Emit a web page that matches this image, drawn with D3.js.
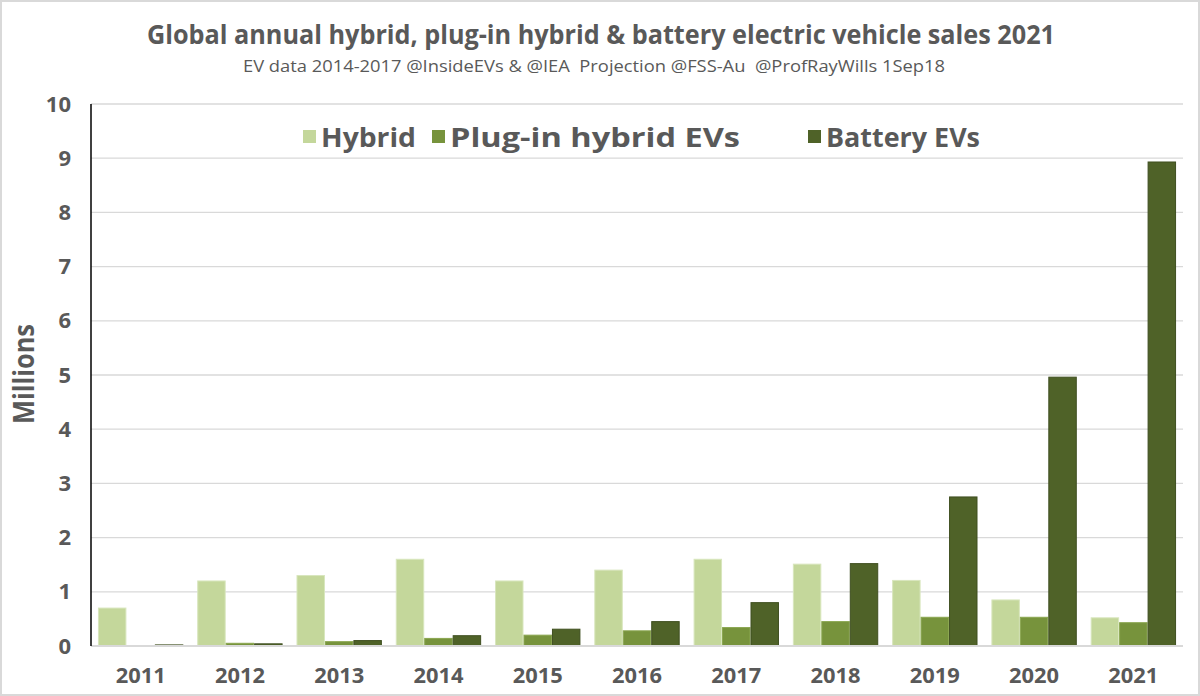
<!DOCTYPE html>
<html><head><meta charset="utf-8">
<script src="https://cdn.jsdelivr.net/npm/d3@7"></script>
<style>
html,body{margin:0;padding:0;background:#fff;}
svg{display:block;}
</style></head>
<body>
<svg id="chart" width="1200" height="696"></svg>
<script>
const years = ["2011","2012","2013","2014","2015","2016","2017","2018","2019","2020","2021"];
const hybrid = [0.70,1.20,1.30,1.60,1.20,1.40,1.60,1.51,1.21,0.85,0.52];
const phev   = [0.00,0.05,0.08,0.14,0.20,0.28,0.34,0.45,0.53,0.53,0.43];
const bev    = [0.02,0.04,0.10,0.19,0.31,0.45,0.80,1.52,2.75,4.96,8.93];
const seriesNames = ["Hybrid","Plug-in hybrid EVs","Battery EVs"];
const seriesColors = ["#c4d79b","#77933c","#4f6228"];
const yTicks = [0,1,2,3,4,5,6,7,8,9,10];
const titleText = "Global annual hybrid, plug-in hybrid & battery electric vehicle sales 2021";
const subtitleText = "EV data 2014-2017 @InsideEVs & @IEA  Projection @FSS-Au  @ProfRayWills 1Sep18";

(function(){
const FONT = "'Open Sans','Noto Sans',Lato,sans-serif";
const svg = d3.select("#chart");
const W = 1200, H = 696;
const pL = 91, pR = 1183, pT = 104, pB = 646;

svg.append("rect").attr("x",1).attr("y",1).attr("width",W-2).attr("height",H-2)
  .attr("fill","#fff").attr("stroke","#d9d9d9").attr("stroke-width",2);

const x = d3.scaleBand().domain(years).range([pL,pR]).paddingInner(0.14).paddingOuter(0.07);
const xs = d3.scaleBand().domain(d3.range(3)).range([0,x.bandwidth()]);
const y = d3.scaleLinear().domain([0,10]).range([pB,pT]);

svg.append("g").selectAll("line").data(yTicks.filter(d=>d>0)).join("line")
  .attr("x1",pL).attr("x2",pR).attr("y1",d=>y(d)).attr("y2",d=>y(d))
  .attr("stroke","#d9d9d9").attr("stroke-width",1.3);

const data = years.map((yr,i)=>({year:yr, vals:[hybrid[i],phev[i],bev[i]]}));
const groups = svg.append("g").selectAll("g").data(data).join("g")
  .attr("transform",d=>`translate(${x(d.year)},0)`);
groups.selectAll("rect").data(d=>d.vals.map((v,k)=>({v,k}))).join("rect")
  .attr("x",d=>xs(d.k)+0.5).attr("width",xs.bandwidth()-1)
  .attr("y",d=>y(d.v)).attr("height",d=>Math.max(0,y(0)-y(d.v)))
  .attr("fill",d=>seriesColors[d.k])
  .attr("stroke",d=>d.k===0?"#d8e6bd":(d.k===1?"#8aa64f":"#3f4f20")).attr("stroke-width",1);

svg.append("line").attr("x1",pL).attr("x2",pR).attr("y1",pB).attr("y2",pB)
  .attr("stroke","#d9d9d9").attr("stroke-width",2);
svg.append("line").attr("x1",pL).attr("x2",pL).attr("y1",pT).attr("y2",pB)
  .attr("stroke","#000").attr("stroke-width",1.5);

const yAxis = d3.axisLeft(y).tickValues(yTicks).tickSize(0).tickPadding(20).tickFormat(d3.format("d"));
const gy = svg.append("g").attr("transform",`translate(${pL},0)`).call(yAxis);
gy.select(".domain").remove();
gy.selectAll("text").attr("font-family",FONT).attr("font-size",22).attr("font-weight","bold").attr("fill","#595959");

const xAxis = d3.axisBottom(x).tickSize(0).tickPadding(22);
const gx = svg.append("g").attr("transform",`translate(0,${pB})`).call(xAxis);
gx.select(".domain").remove();
gx.selectAll("text").attr("font-family",FONT).attr("font-size",21).attr("font-weight","bold").attr("fill","#595959")
  .attr("textLength",50).attr("lengthAdjust","spacingAndGlyphs");

function fitText(sel, w){ sel.attr("textLength",w).attr("lengthAdjust","spacingAndGlyphs"); }
const t = svg.append("text").attr("x",601).attr("y",44).attr("text-anchor","middle")
  .attr("font-family",FONT).attr("font-size",27).attr("font-weight","bold").attr("fill","#595959").text(titleText);
fitText(t, 908);
const st = svg.append("text").attr("x",594).attr("y",72).attr("text-anchor","middle")
  .attr("font-family",FONT).attr("font-size",16).attr("fill","#595959")
  .style("white-space","pre").attr("xml:space","preserve").text(subtitleText);
fitText(st, 702);

svg.append("text").attr("transform","translate(34,374) rotate(-90)").attr("text-anchor","middle")
  .attr("font-family",FONT).attr("font-size",28).attr("font-weight","bold").attr("fill","#595959")
  .attr("textLength",100).attr("lengthAdjust","spacingAndGlyphs").text("Millions");

const legendX = [303,432,808];
const legendW = [95,290,154];
const lg = svg.append("g");
seriesNames.forEach((n,i)=>{
  lg.append("rect").attr("x",legendX[i]).attr("y",130).attr("width",13).attr("height",13).attr("fill",seriesColors[i]);
  const tt = lg.append("text").attr("x",legendX[i]+18).attr("y",147).attr("font-family",FONT)
    .attr("font-size",27).attr("font-weight","bold").attr("fill","#595959").text(n);
  fitText(tt, legendW[i]);
});
})();
</script>
</body></html>
